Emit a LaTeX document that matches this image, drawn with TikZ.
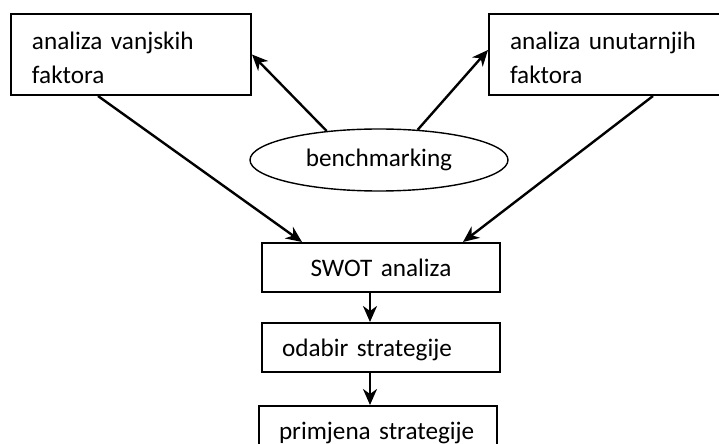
\documentclass[tikz,border=0pt]{standalone}
\usepackage{fontspec}
\setmainfont{Carlito}
\usetikzlibrary{shapes.geometric, arrows.meta, positioning}

\begin{document}
\begin{tikzpicture}[x=0.5pt, y=-0.5pt,
            every node/.style={font=\fontsize{12.6}{17}\selectfont},
            okvir/.style={draw, rectangle, line width=1pt, minimum width=120pt, minimum height=40.5pt, text width=99pt, align=left, inner xsep=10.5pt, execute at begin node=\rule{0pt}{12pt}},
            korak/.style={draw, rectangle, line width=1pt, minimum width=119pt, minimum height=24.5pt, text width=99pt, inner xsep=10pt, text height=11pt, text depth=2pt},
            krug/.style={draw, ellipse, line width=0.7pt, minimum width=129pt, minimum height=31pt},
            strelica/.style={line width=1.2pt,->,>={Stealth[length=8pt, width=7pt, inset=2.5pt]}}]

            \useasboundingbox (0,0) rectangle (719,444);
            \clip (0,0) rectangle (719,444);

            % Nodes
            \node (vanjski) [okvir] at (131,54.5) {analiza vanjskih\\faktora};
            \node (unutarnji) [okvir] at (609,54.5) {analiza unutarnjih\\faktora};
            \node (bench) [krug] at (379,160) {benchmarking};
            \node (swot) [korak, align=center] at (381,267.5) {SWOT analiza};
            \node (odabir) [korak, align=left, below=14.5pt of swot] {odabir strategije};
            \node (primjena) [korak, align=left, below=16pt of odabir, xshift=-1.5pt] {primjena strategije};

            % Arrows
            % benchmarking -> analize
            \draw [strelica] (bench.151) -- (vanjski.east);
            \draw [strelica] (bench.38) -- ([yshift=2.25pt]unutarnji.west);

            % analize -> SWOT
            \draw [strelica] ([xshift=-16.5pt]vanjski.south) -- ([xshift=20.5pt]swot.north west);
            \draw [strelica] ([xshift=22pt]unutarnji.south) -- ([xshift=-19pt]swot.north east);

            % SWOT -> odabir -> primjena
            \draw [strelica] ([xshift=-5.5pt]swot.south) -- ([xshift=-5.5pt]odabir.north);
            \draw [strelica] ([xshift=-5.5pt]odabir.south) -- ([xshift=-4pt]primjena.north);
        \end{tikzpicture}
\end{document}
